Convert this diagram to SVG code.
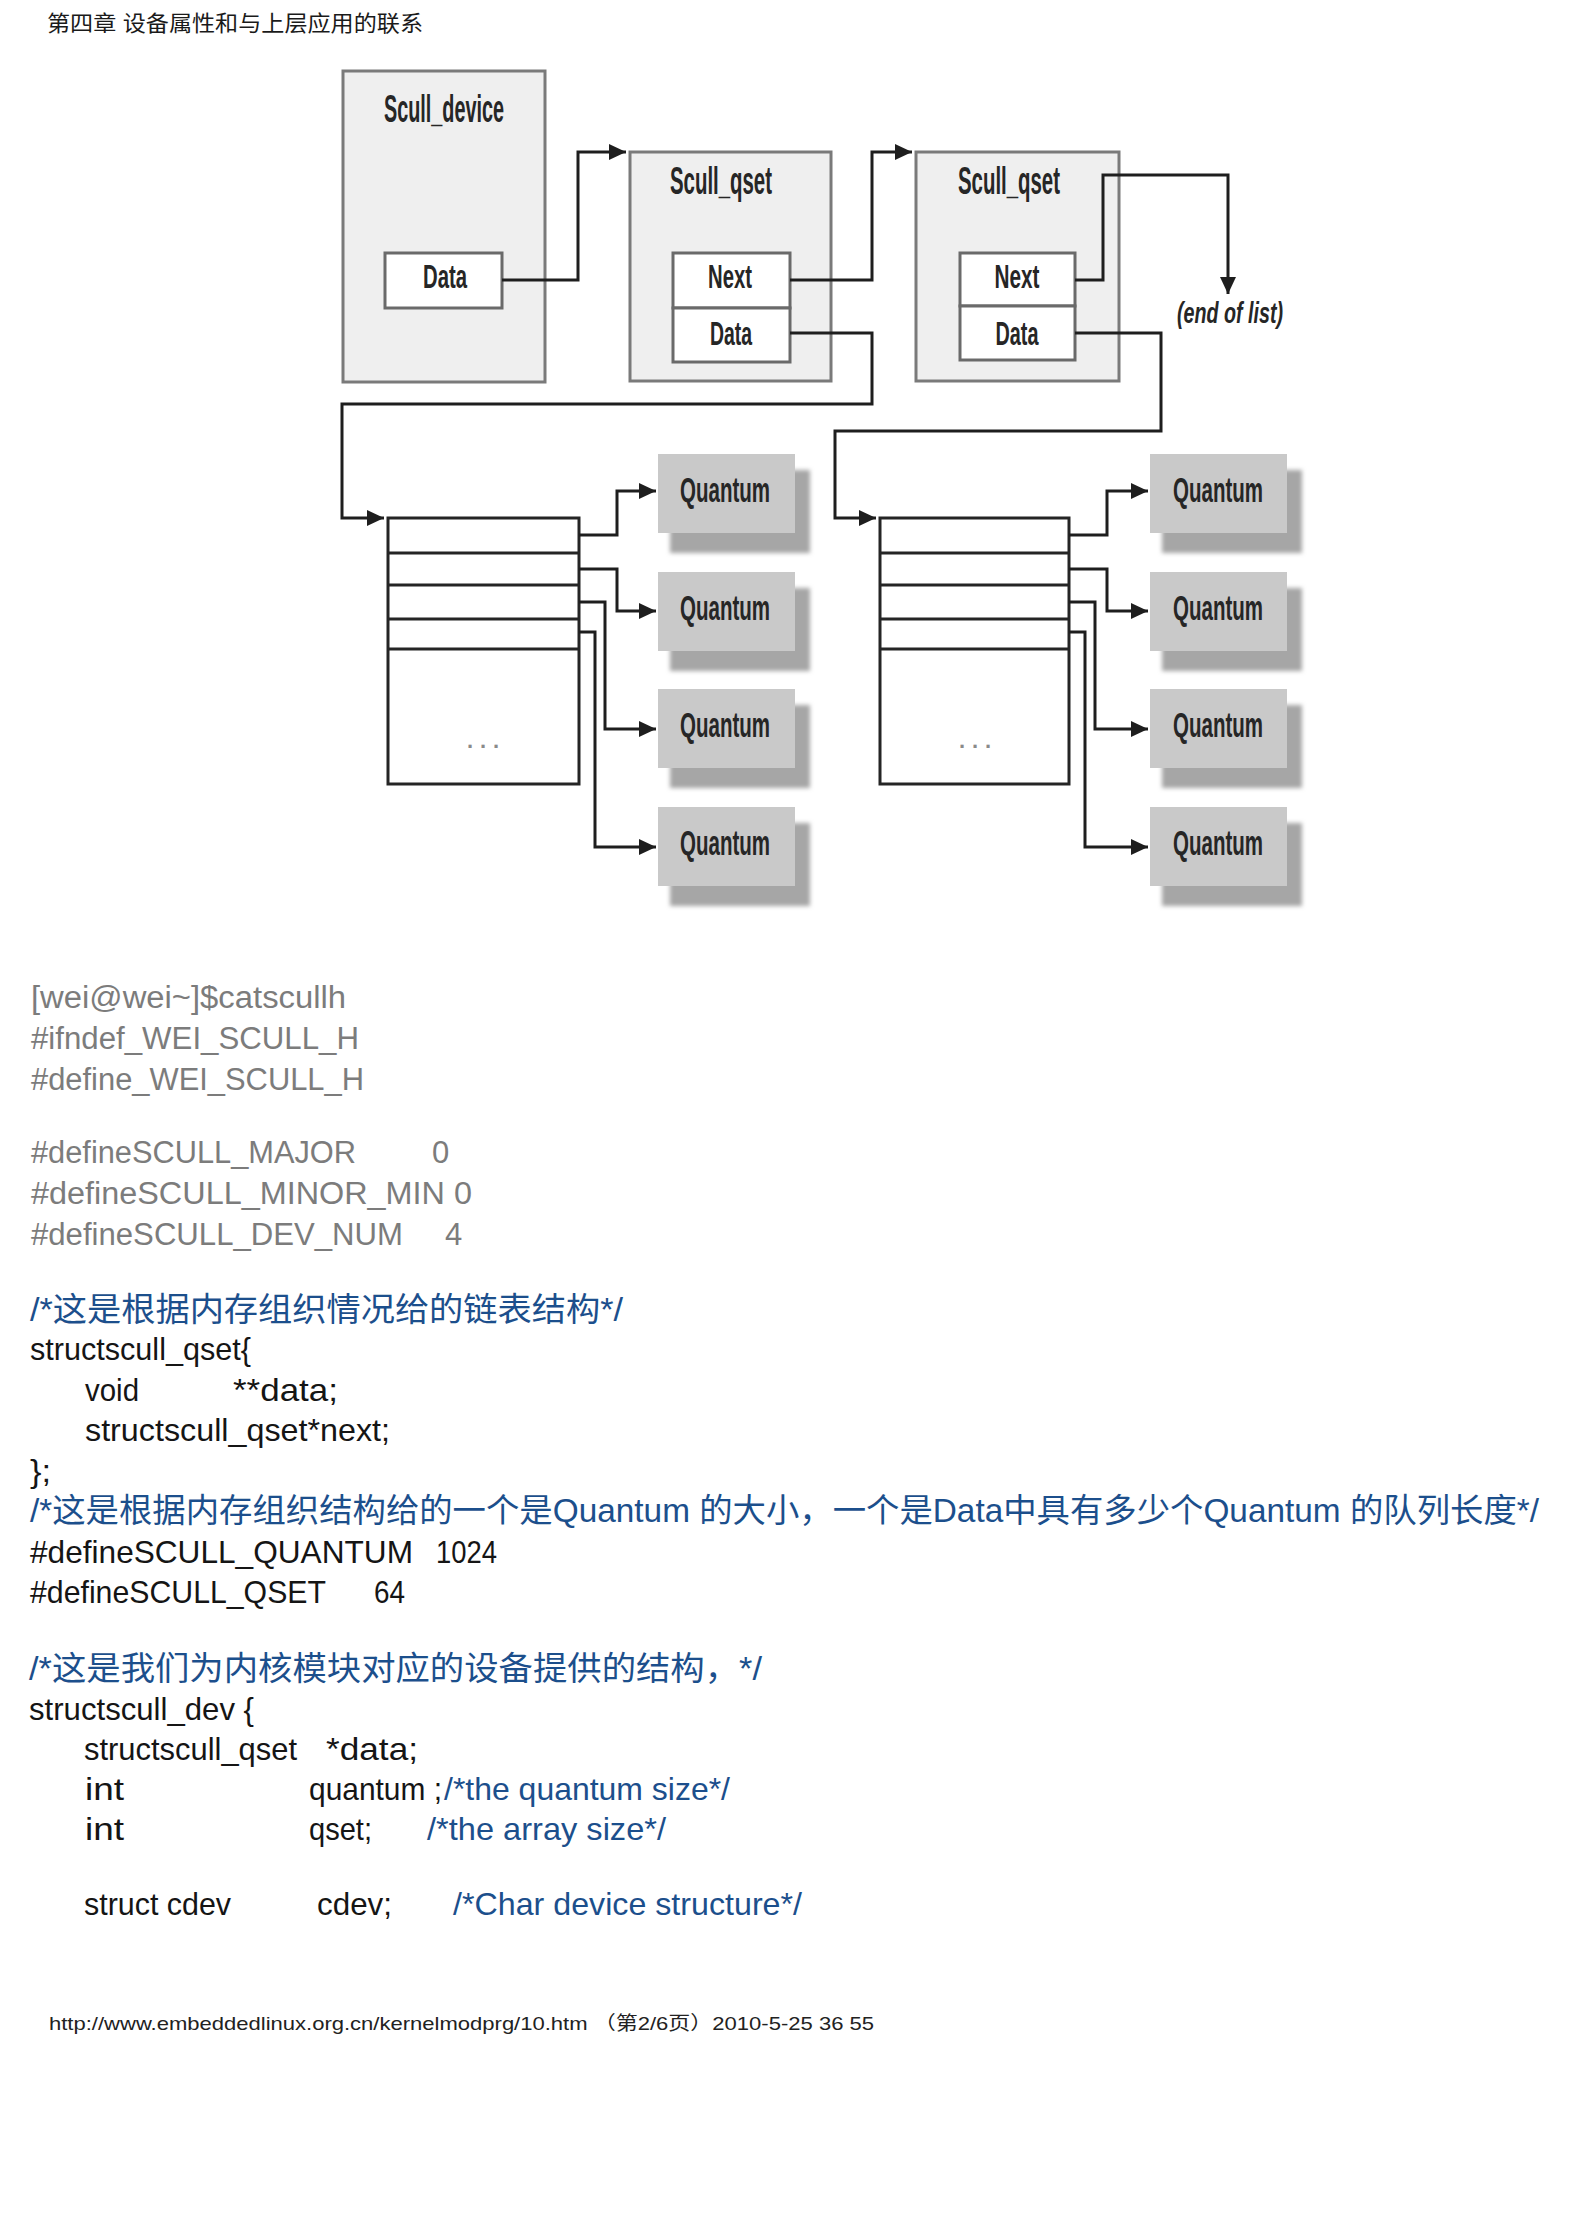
<svg xmlns="http://www.w3.org/2000/svg" width="1584" height="2240" viewBox="0 0 1584 2240">
<style>
.bg{fill:#ffffff}
.outer{fill:#efefef;stroke:#7a7a7a;stroke-width:3}
.inner{fill:#ffffff;stroke:#6a6a6a;stroke-width:3}
.arr{fill:#ffffff;stroke:#252525;stroke-width:3}
.div{stroke:#252525;stroke-width:3}
.qbox{fill:#c9c9c9}
.qsh{fill:#a6a6a6;filter:url(#blur)}
.con{fill:none;stroke:#1e1e1e;stroke-width:3;marker-end:url(#ah)}
.dl{font-family:"Liberation Sans Narrow","Liberation Sans",sans-serif;font-weight:bold;fill:#262626;text-anchor:middle}
.title{font-family:"Liberation Sans","Noto Sans CJK SC",sans-serif;font-size:22px;fill:#1a1a1a}
.gray{font-family:"Liberation Sans Narrow","Liberation Sans",sans-serif;font-size:31px;fill:#7c7c7c}
.blk{font-family:"Liberation Sans Narrow","Liberation Sans",sans-serif;font-size:32px;fill:#151515}
.blue{font-family:"Liberation Sans","Noto Sans CJK SC",sans-serif;font-size:33px;fill:#1c4f8c}
.bluen{font-family:"Liberation Sans Narrow","Liberation Sans",sans-serif;font-size:32px;fill:#1c4f8c}
.foot{font-family:"Liberation Sans","Noto Sans CJK SC",sans-serif;font-size:19px;fill:#222}
</style>
<defs>
<marker id="ah" markerUnits="userSpaceOnUse" markerWidth="18" markerHeight="16" refX="17" refY="8" orient="auto">
<path d="M0,0 L17,8 L0,16 Z" fill="#1e1e1e"/>
</marker>
<filter id="blur" x="-10%" y="-10%" width="120%" height="120%"><feGaussianBlur stdDeviation="2"/></filter>
</defs>
<rect class="bg" x="0" y="0" width="1584" height="2240"/>

<text class="title" x="47" y="31" textLength="376" lengthAdjust="spacingAndGlyphs">第四章 设备属性和与上层应用的联系</text>

<g id="scull_device">
<rect class="outer" x="343" y="71" width="202" height="311"/>
<text class="dl" x="444" y="122" font-size="38" textLength="120" lengthAdjust="spacingAndGlyphs">Scull_device</text>
<rect class="inner" x="385" y="253" width="117" height="55"/>
<text class="dl" x="445" y="288" font-size="34" textLength="44" lengthAdjust="spacingAndGlyphs">Data</text>
</g>

<g id="scull_qset1">
<rect class="outer" x="630" y="152" width="201" height="229"/>
<text class="dl" x="721" y="194" font-size="38" textLength="102" lengthAdjust="spacingAndGlyphs">Scull_qset</text>
<rect class="inner" x="673" y="253" width="117" height="55"/>
<rect class="inner" x="673" y="308" width="117" height="54"/>
<text class="dl" x="730" y="288" font-size="34" textLength="44" lengthAdjust="spacingAndGlyphs">Next</text>
<text class="dl" x="731" y="345" font-size="34" textLength="42" lengthAdjust="spacingAndGlyphs">Data</text>
</g>

<g id="scull_qset2">
<rect class="outer" x="916" y="152" width="203" height="229"/>
<text class="dl" x="1009" y="194" font-size="38" textLength="102" lengthAdjust="spacingAndGlyphs">Scull_qset</text>
<rect class="inner" x="960" y="253" width="115" height="53"/>
<rect class="inner" x="960" y="306" width="115" height="54"/>
<text class="dl" x="1017" y="288" font-size="34" textLength="45" lengthAdjust="spacingAndGlyphs">Next</text>
<text class="dl" x="1017" y="345" font-size="34" textLength="43" lengthAdjust="spacingAndGlyphs">Data</text>
</g>

<g id="end_of_list">
<text class="dl" x="1230" y="323" font-size="30" font-style="italic" textLength="106" lengthAdjust="spacingAndGlyphs">(end of list)</text>
</g>

<g id="array1">
<rect class="arr" x="388" y="518" width="191" height="266"/>
<line class="div" x1="388" y1="553" x2="579" y2="553"/>
<line class="div" x1="388" y1="585" x2="579" y2="585"/>
<line class="div" x1="388" y1="619" x2="579" y2="619"/>
<line class="div" x1="388" y1="649" x2="579" y2="649"/>
<text x="483" y="748" font-family="Liberation Sans" font-weight="bold" font-size="22" fill="#8a8a8a" text-anchor="middle" textLength="32" lengthAdjust="spacing">...</text>
</g>

<g id="array2">
<rect class="arr" x="880" y="518" width="189" height="266"/>
<line class="div" x1="880" y1="553" x2="1069" y2="553"/>
<line class="div" x1="880" y1="585" x2="1069" y2="585"/>
<line class="div" x1="880" y1="619" x2="1069" y2="619"/>
<line class="div" x1="880" y1="649" x2="1069" y2="649"/>
<text x="975" y="748" font-family="Liberation Sans" font-weight="bold" font-size="22" fill="#8a8a8a" text-anchor="middle" textLength="32" lengthAdjust="spacing">...</text>
</g>

<g id="quantum_l1"><rect class="qsh" x="670" y="470" width="140" height="83"/><rect class="qbox" x="658" y="454" width="137" height="79"/><text class="dl" x="725" y="502" font-size="35" textLength="90" lengthAdjust="spacingAndGlyphs">Quantum</text></g>
<g id="quantum_l2"><rect class="qsh" x="670" y="588" width="140" height="83"/><rect class="qbox" x="658" y="572" width="137" height="79"/><text class="dl" x="725" y="620" font-size="35" textLength="90" lengthAdjust="spacingAndGlyphs">Quantum</text></g>
<g id="quantum_l3"><rect class="qsh" x="670" y="705" width="140" height="83"/><rect class="qbox" x="658" y="689" width="137" height="79"/><text class="dl" x="725" y="737" font-size="35" textLength="90" lengthAdjust="spacingAndGlyphs">Quantum</text></g>
<g id="quantum_l4"><rect class="qsh" x="670" y="823" width="140" height="83"/><rect class="qbox" x="658" y="807" width="137" height="79"/><text class="dl" x="725" y="855" font-size="35" textLength="90" lengthAdjust="spacingAndGlyphs">Quantum</text></g>

<g id="quantum_r1"><rect class="qsh" x="1162" y="470" width="140" height="83"/><rect class="qbox" x="1150" y="454" width="137" height="79"/><text class="dl" x="1218" y="502" font-size="35" textLength="90" lengthAdjust="spacingAndGlyphs">Quantum</text></g>
<g id="quantum_r2"><rect class="qsh" x="1162" y="588" width="140" height="83"/><rect class="qbox" x="1150" y="572" width="137" height="79"/><text class="dl" x="1218" y="620" font-size="35" textLength="90" lengthAdjust="spacingAndGlyphs">Quantum</text></g>
<g id="quantum_r3"><rect class="qsh" x="1162" y="705" width="140" height="83"/><rect class="qbox" x="1150" y="689" width="137" height="79"/><text class="dl" x="1218" y="737" font-size="35" textLength="90" lengthAdjust="spacingAndGlyphs">Quantum</text></g>
<g id="quantum_r4"><rect class="qsh" x="1162" y="823" width="140" height="83"/><rect class="qbox" x="1150" y="807" width="137" height="79"/><text class="dl" x="1218" y="855" font-size="35" textLength="90" lengthAdjust="spacingAndGlyphs">Quantum</text></g>

<g id="connectors">
<path class="con" d="M502,280 H578 V152 H626"/>
<path class="con" d="M790,280 H872 V152 H912"/>
<path class="con" d="M1075,280 H1103 V175 H1228 V294"/>
<path class="con" d="M790,333 H872 V404 H342 V518 H384"/>
<path class="con" d="M1075,333 H1161 V431 H835 V518 H876"/>
<path class="con" d="M579,535 H617 V491 H656"/>
<path class="con" d="M579,569 H617 V611 H656"/>
<path class="con" d="M579,602 H605 V729 H656"/>
<path class="con" d="M579,632 H595 V847 H656"/>
<path class="con" d="M1069,535 H1107 V491 H1148"/>
<path class="con" d="M1069,569 H1107 V611 H1148"/>
<path class="con" d="M1069,602 H1095 V729 H1148"/>
<path class="con" d="M1069,632 H1085 V847 H1148"/>
</g>

<g id="code">
<text class="gray" x="31" y="1008" textLength="315" lengthAdjust="spacingAndGlyphs">[wei@wei~]$catscullh</text>
<text class="gray" x="31" y="1049" textLength="328" lengthAdjust="spacingAndGlyphs">#ifndef_WEI_SCULL_H</text>
<text class="gray" x="31" y="1090" textLength="333" lengthAdjust="spacingAndGlyphs">#define_WEI_SCULL_H</text>
<text class="gray" x="31" y="1163" textLength="325" lengthAdjust="spacingAndGlyphs">#defineSCULL_MAJOR</text>
<text class="gray" x="432" y="1163">0</text>
<text class="gray" x="31" y="1204" textLength="441" lengthAdjust="spacingAndGlyphs">#defineSCULL_MINOR_MIN 0</text>
<text class="gray" x="31" y="1245" textLength="372" lengthAdjust="spacingAndGlyphs">#defineSCULL_DEV_NUM</text>
<text class="gray" x="445" y="1245">4</text>

<text class="blue" x="30" y="1321" textLength="593" lengthAdjust="spacingAndGlyphs">/*这是根据内存组织情况给的链表结构*/</text>
<text class="blk" x="30" y="1360" textLength="221" lengthAdjust="spacingAndGlyphs">structscull_qset{</text>
<text class="blk" x="85" y="1401" textLength="54" lengthAdjust="spacingAndGlyphs">void</text>
<text class="blk" x="233" y="1401" textLength="105" lengthAdjust="spacingAndGlyphs">**data;</text>
<text class="blk" x="85" y="1441" textLength="305" lengthAdjust="spacingAndGlyphs">structscull_qset*next;</text>
<text class="blk" x="30" y="1482" textLength="21" lengthAdjust="spacingAndGlyphs">};</text>
<text class="blue" x="30" y="1522" textLength="1509" lengthAdjust="spacingAndGlyphs">/*这是根据内存组织结构给的一个是Quantum 的大小，一个是Data中具有多少个Quantum 的队列长度*/</text>
<text class="blk" x="30" y="1563" textLength="383" lengthAdjust="spacingAndGlyphs">#defineSCULL_QUANTUM</text>
<text class="blk" x="436" y="1563" textLength="61" lengthAdjust="spacingAndGlyphs">1024</text>
<text class="blk" x="30" y="1603" textLength="296" lengthAdjust="spacingAndGlyphs">#defineSCULL_QSET</text>
<text class="blk" x="374" y="1603" textLength="31" lengthAdjust="spacingAndGlyphs">64</text>

<text class="blue" x="29" y="1680" textLength="733" lengthAdjust="spacingAndGlyphs">/*这是我们为内核模块对应的设备提供的结构，*/</text>
<text class="blk" x="29" y="1720" textLength="225" lengthAdjust="spacingAndGlyphs">structscull_dev {</text>
<text class="blk" x="84" y="1760" textLength="213" lengthAdjust="spacingAndGlyphs">structscull_qset</text>
<text class="blk" x="326" y="1760" textLength="92" lengthAdjust="spacingAndGlyphs">*data;</text>
<text class="blk" x="85" y="1800" textLength="39" lengthAdjust="spacingAndGlyphs">int</text>
<text class="blk" x="309" y="1800" textLength="133" lengthAdjust="spacingAndGlyphs">quantum ;</text>
<text class="bluen" x="444" y="1800" textLength="286" lengthAdjust="spacingAndGlyphs">/*the quantum  size*/</text>
<text class="blk" x="85" y="1840" textLength="39" lengthAdjust="spacingAndGlyphs">int</text>
<text class="blk" x="309" y="1840" textLength="63" lengthAdjust="spacingAndGlyphs">qset;</text>
<text class="bluen" x="427" y="1840" textLength="239" lengthAdjust="spacingAndGlyphs">/*the array size*/</text>
<text class="blk" x="84" y="1915" textLength="147" lengthAdjust="spacingAndGlyphs">struct cdev</text>
<text class="blk" x="317" y="1915" textLength="75" lengthAdjust="spacingAndGlyphs">cdev;</text>
<text class="bluen" x="453" y="1915" textLength="349" lengthAdjust="spacingAndGlyphs">/*Char device structure*/</text>
</g>

<text class="foot" x="49" y="2030" textLength="825" lengthAdjust="spacingAndGlyphs">http://www.embeddedlinux.org.cn/kernelmodprg/10.htm （第2/6页）2010-5-25 36 55</text>
</svg>
